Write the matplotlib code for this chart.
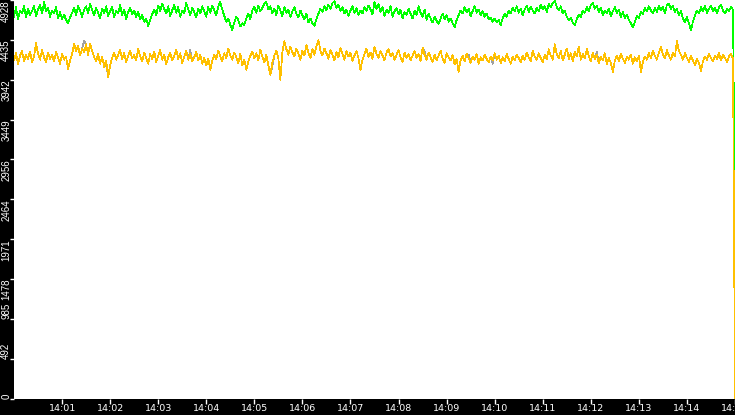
import numpy as np
import pandas as pd
import matplotlib
matplotlib.use("Agg")
import matplotlib.pyplot as plt
import matplotlib.dates as mdates

# Valores (um ponto a cada 2.5 s, último ponto = queda final)
verde = [
    4720, 4840, 4690, 4800, 4760, 4860, 4710, 4820, 4740, 4790,
    4850, 4730, 4810, 4870, 4760, 4900, 4790, 4830, 4720, 4800,
    4760, 4840, 4700, 4780, 4690, 4750, 4680, 4640, 4710, 4770,
    4830, 4740, 4860, 4790, 4720, 4810, 4850, 4760, 4880, 4800,
    4740, 4830, 4770, 4700, 4820, 4760, 4850, 4730, 4790, 4840,
    4710, 4800, 4760, 4870, 4740, 4810, 4690, 4780, 4830, 4750,
    4800, 4720, 4780, 4690, 4740, 4660, 4700, 4607, 4680, 4750,
    4810, 4740, 4860, 4790, 4880, 4820, 4760, 4850, 4730, 4800,
    4870, 4770, 4840, 4720, 4800, 4760, 4890, 4810, 4740, 4830,
    4780, 4710, 4820, 4760, 4850, 4790, 4720, 4840, 4770, 4860,
    4800, 4740, 4850, 4903, 4810, 4730, 4660, 4700, 4620, 4558,
    4650, 4720, 4680, 4600, 4640, 4619, 4700, 4760, 4690, 4800,
    4840, 4770, 4860, 4790, 4830, 4880, 4903, 4810, 4850, 4760,
    4820, 4740, 4860, 4800, 4730, 4840, 4770, 4810, 4720, 4790,
    4840, 4760, 4710, 4800, 4740, 4690, 4760, 4650, 4700, 4640,
    4607, 4690, 4760, 4820, 4780, 4850, 4800, 4870, 4820, 4890,
    4915, 4830, 4870, 4790, 4840, 4760, 4810, 4730, 4800, 4850,
    4770, 4830, 4740, 4800, 4760, 4840, 4790, 4860, 4810, 4750,
    4903, 4820, 4880, 4780, 4840, 4730, 4810, 4770, 4850, 4720,
    4790, 4830, 4750, 4810, 4700, 4780, 4740, 4820, 4760, 4700,
    4800, 4740, 4850, 4770, 4720, 4810, 4680, 4760, 4700, 4650,
    4720, 4670, 4630, 4700, 4760, 4690, 4740, 4660, 4700, 4640,
    4590, 4680, 4740, 4800, 4760, 4840, 4780, 4820, 4730, 4790,
    4850, 4770, 4810, 4740, 4790, 4720, 4760, 4690, 4710, 4660,
    4700, 4650, 4680, 4620, 4700, 4760, 4720, 4800, 4760, 4830,
    4790, 4850, 4770, 4820, 4740, 4810, 4860, 4780, 4840, 4800,
    4760, 4830, 4790, 4870, 4810, 4850, 4780, 4880, 4840, 4890,
    4915, 4840, 4800, 4850, 4760, 4800, 4720, 4680, 4710, 4650,
    4620, 4690, 4750, 4720, 4800, 4770, 4840, 4790, 4860, 4890,
    4820, 4860, 4780, 4830, 4740, 4800, 4760, 4820, 4730, 4790,
    4840, 4770, 4810, 4720, 4780, 4700, 4750, 4680, 4640, 4590,
    4660, 4730, 4700, 4780, 4750, 4830, 4790, 4850, 4800, 4760,
    4830, 4780, 4860, 4800, 4840, 4760, 4870, 4880, 4820, 4850,
    4780, 4820, 4740, 4790, 4700, 4650, 4720, 4640, 4558, 4660,
    4740, 4800, 4760, 4840, 4790, 4850, 4770, 4820, 4860, 4790,
    4830, 4760, 4840, 4870, 4800, 4760, 4820, 4790, 4840, 4810,
    2080,
]

amarelo = [
    4180, 4270, 4140, 4240, 4300, 4170, 4250, 4200, 4290, 4160,
    4230, 4400, 4260, 4190, 4310, 4220, 4160, 4280, 4200, 4250,
    4170, 4290, 4210, 4140, 4260, 4190, 4230, 4075, 4180, 4260,
    4390, 4300, 4360, 4240, 4330, 4280, 4380, 4250, 4390, 4300,
    4220, 4170, 4260, 4140, 4230, 4100, 4180, 3975, 4120, 4210,
    4280, 4190, 4250, 4310, 4200, 4270, 4160, 4240, 4300, 4210,
    4250, 4180, 4320, 4230, 4170, 4280, 4210, 4140, 4260, 4200,
    4290, 4160, 4240, 4310, 4190, 4250, 4130, 4220, 4280, 4180,
    4240, 4310, 4200, 4270, 4150, 4230, 4300, 4190, 4260, 4170,
    4220, 4290, 4180, 4250, 4140, 4210, 4120, 4200, 4064, 4180,
    4250, 4200, 4300, 4230, 4170, 4270, 4210, 4330, 4240, 4190,
    4280, 4220, 4150, 4260, 4120, 4190, 4064, 4170, 4240, 4290,
    4210, 4270, 4180, 4310, 4230, 4160, 4250, 4120, 4002, 4150,
    4240, 4300, 4200, 3940, 4280, 4420, 4320, 4250, 4350, 4280,
    4230, 4330, 4260, 4190, 4300, 4240, 4370, 4280, 4210, 4320,
    4250, 4360, 4434, 4300, 4240, 4330, 4270, 4200, 4310, 4250,
    4180, 4290, 4220, 4340, 4260, 4190, 4300, 4230, 4280, 4170,
    4240, 4300, 4210, 4064, 4190, 4260, 4330, 4220, 4280, 4200,
    4350, 4260, 4210, 4300, 4240, 4180, 4280, 4320, 4230, 4270,
    4190, 4250, 4310, 4220, 4160, 4280, 4210, 4260, 4180, 4240,
    4300, 4210, 4260, 4170, 4340, 4250, 4190, 4280, 4220, 4160,
    4250, 4180, 4240, 4300, 4200, 4150, 4270, 4220, 4180, 4250,
    4130, 4200, 4040, 4180, 4240, 4170, 4260, 4210, 4150, 4230,
    4190, 4260, 4140, 4220, 4180, 4250, 4200, 4160, 4230, 4180,
    4270, 4190, 4240, 4150, 4220, 4170, 4260, 4200, 4140, 4230,
    4180, 4250, 4210, 4160, 4240, 4190, 4280, 4220, 4170, 4300,
    4230, 4190, 4270, 4210, 4160, 4250, 4200, 4320, 4240, 4190,
    4380, 4260, 4210, 4300, 4180, 4250, 4330, 4200, 4270, 4170,
    4290, 4230, 4350, 4190, 4260, 4210, 4320, 4240, 4170, 4280,
    4200, 4250, 4150, 4230, 4180, 4270, 4130, 4210, 4150, 4040,
    4180, 4240, 4170, 4260, 4200, 4150, 4230, 4190, 4250, 4140,
    4220, 4170, 4240, 4040, 4160, 4230, 4190, 4270, 4210, 4300,
    4240, 4190, 4280, 4350, 4260, 4210, 4310, 4240, 4190, 4280,
    4230, 4420, 4300, 4250, 4190, 4270, 4210, 4160, 4240, 4180,
    4120, 4200, 4150, 4050, 4170, 4230, 4190, 4260, 4210, 4170,
    4240, 4200, 4270, 4180, 4250, 4210, 4160, 4230, 4260, 4200,
    0,
]

cinza = [
    4180, 4270, 4140, 4240, 4300, 4170, 4250, 4200, 4290, 4160,
    4230, 4400, 4260, 4190, 4310, 4220, 4160, 4280, 4200, 4250,
    4170, 4290, 4210, 4140, 4260, 4190, 4230, 4075, 4180, 4260,
    4390, 4300, 4360, 4240, 4330, 4420, 4380, 4250, 4390, 4300,
    4220, 4170, 4260, 4140, 4230, 4100, 4140, 3975, 4120, 4210,
    4280, 4190, 4250, 4310, 4200, 4270, 4160, 4240, 4300, 4210,
    4250, 4180, 4320, 4230, 4170, 4280, 4210, 4140, 4260, 4200,
    4290, 4160, 4240, 4310, 4190, 4250, 4130, 4220, 4280, 4180,
    4240, 4310, 4200, 4270, 4150, 4230, 4300, 4190, 4310, 4170,
    4220, 4290, 4180, 4250, 4140, 4210, 4120, 4200, 4064, 4180,
    4250, 4200, 4300, 4230, 4170, 4270, 4210, 4330, 4240, 4190,
    4280, 4220, 4150, 4260, 4120, 4190, 4064, 4170, 4240, 4290,
    4210, 4270, 4180, 4310, 4230, 4160, 4250, 4120, 4002, 4110,
    4240, 4300, 4200, 3940, 4280, 4420, 4320, 4250, 4350, 4280,
    4230, 4330, 4260, 4190, 4300, 4240, 4370, 4280, 4210, 4320,
    4250, 4360, 4434, 4300, 4240, 4330, 4270, 4200, 4310, 4250,
    4180, 4290, 4220, 4340, 4260, 4190, 4300, 4230, 4280, 4170,
    4240, 4300, 4210, 4064, 4190, 4260, 4330, 4220, 4280, 4200,
    4350, 4260, 4210, 4300, 4240, 4180, 4280, 4320, 4230, 4270,
    4190, 4250, 4310, 4220, 4160, 4280, 4210, 4260, 4180, 4240,
    4300, 4210, 4260, 4170, 4340, 4290, 4190, 4280, 4220, 4160,
    4250, 4180, 4240, 4300, 4200, 4150, 4270, 4220, 4180, 4250,
    4130, 4200, 4040, 4180, 4240, 4170, 4260, 4250, 4150, 4230,
    4190, 4260, 4140, 4220, 4180, 4250, 4200, 4160, 4230, 4140,
    4270, 4190, 4240, 4150, 4220, 4170, 4260, 4200, 4140, 4230,
    4180, 4250, 4210, 4160, 4240, 4190, 4280, 4220, 4170, 4300,
    4230, 4190, 4270, 4210, 4160, 4250, 4200, 4320, 4240, 4190,
    4380, 4260, 4210, 4300, 4180, 4250, 4330, 4200, 4270, 4170,
    4290, 4230, 4350, 4190, 4260, 4210, 4320, 4240, 4170, 4280,
    4200, 4290, 4150, 4230, 4180, 4270, 4130, 4210, 4150, 4040,
    4180, 4240, 4170, 4260, 4200, 4150, 4230, 4190, 4250, 4140,
    4220, 4170, 4240, 4040, 4160, 4230, 4190, 4270, 4210, 4300,
    4240, 4190, 4280, 4350, 4260, 4210, 4310, 4240, 4190, 4280,
    4230, 4420, 4300, 4250, 4190, 4270, 4210, 4160, 4240, 4180,
    4120, 4200, 4150, 4050, 4170, 4230, 4190, 4260, 4210, 4170,
    4240, 4200, 4270, 4180, 4250, 4210, 4160, 4230, 4260, 4200,
    0,
]

inicio = "2024-01-01 14:00:00"
fim = "2024-01-01 14:15:00"

y_ticks = [0, 492.8, 985.6, 1478.4, 1971.2, 2464, 2956.8, 3449.6, 3942.4, 4435.2, 4928]
y_labels = ["0", "492", "985", "1478", "1971", "2464", "2956", "3449", "3942", "4435", "4928"]
x_labels = ["14:01", "14:02", "14:03", "14:04", "14:05", "14:06", "14:07",
            "14:08", "14:09", "14:10", "14:11", "14:12", "14:13", "14:14", "14:15"]

tempos = pd.date_range(inicio, fim, periods=len(verde)).to_pydatetime()
x_ticks = pd.date_range("2024-01-01 14:01:00", fim, freq="1min").to_pydatetime()

fig = plt.figure(figsize=(7.35, 4.15), dpi=100, facecolor="black")
ax = fig.add_axes([14 / 735, 16.5 / 415, 721 / 735, 398.5 / 415])
ax.set_facecolor("white")

ax.plot(tempos, verde, color="#00ff00", lw=0.5, antialiased=False)
ax.plot(tempos, cinza, color="#a0a0a0", lw=0.5, antialiased=False)
ax.plot(tempos, amarelo, color="#ffc000", lw=0.5, antialiased=False)

ax.set_xlim(mdates.date2num(tempos[0]), mdates.date2num(tempos[-1]))
ax.set_ylim(0, 4928)

for s in ax.spines.values():
    s.set_visible(False)

ax.set_xticks(mdates.date2num(x_ticks))
ax.set_xticklabels(x_labels)
ax.set_yticks(y_ticks)
ax.set_yticklabels(y_labels)

ax.tick_params(axis="x", colors="white", direction="out", length=3.6, width=1, pad=0.3, labelsize=6.8)
ax.tick_params(axis="y", colors="white", direction="out", length=3, width=1, pad=-1, labelsize=7)

for lbl in ax.get_xticklabels():
    lbl.set_family("DejaVu Sans")

for lbl in ax.get_yticklabels():
    lbl.set_family("Liberation Sans")
    lbl.set_rotation(90)
    lbl.set_horizontalalignment("right")
    # rótulos de 4 dígitos ficam abaixo da marca, os menores acima
    if len(lbl.get_text()) >= 4:
        lbl.set_verticalalignment("top")
    else:
        lbl.set_verticalalignment("bottom")

fig.savefig("out.png", dpi=100, facecolor="black")
